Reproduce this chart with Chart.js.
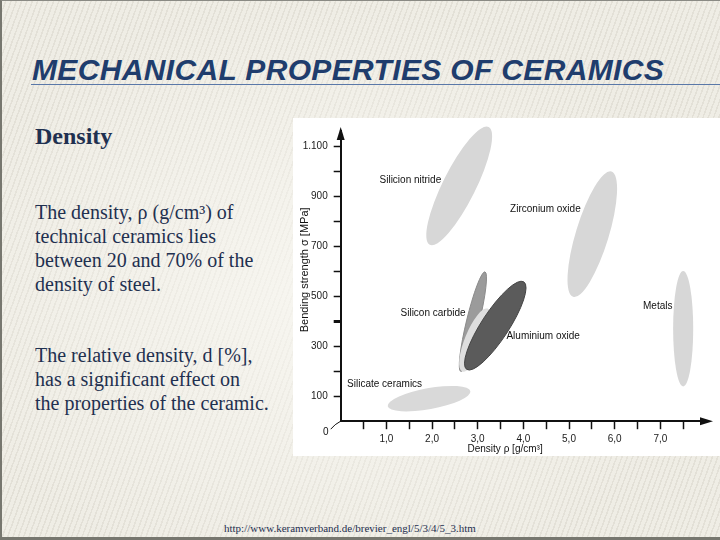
<!DOCTYPE html>
<html>
<head>
<meta charset="utf-8">
<script src="https://cdn.jsdelivr.net/npm/chart.js@4.4.1/dist/chart.umd.min.js"></script>
<style>
  html, body { margin: 0; padding: 0; }
  body {
    width: 720px; height: 540px; position: relative; overflow: hidden;
    background-color: #efede5;
    background-image:
      radial-gradient(ellipse at 45% 55%, rgba(250,249,244,0.75) 0%, rgba(250,249,244,0) 70%),
      repeating-linear-gradient(110deg, rgba(120,110,90,0.10) 0px, rgba(120,110,90,0.10) 1.5px, rgba(255,255,255,0) 1.5px, rgba(255,255,255,0) 5px);
    box-sizing: border-box;
    border-top: 1px solid #8a8a84;
    border-left: 2px solid #77776f;
    border-bottom: 3px solid #77776f;
  }
  .title {
    position: absolute; left: 30px; top: 54px;
    font: italic bold 30px/30px "Liberation Sans", Arial, sans-serif;
    letter-spacing: 0.35px;
    color: #1f3d6d; white-space: nowrap;
  }
  .rule { position: absolute; left: 29px; top: 83px; width: 700px; height: 1px; background: #5a78a8; }
  .txt {
    position: absolute; left: 33px;
    font-family: "Liberation Serif", "Times New Roman", serif;
    color: #1f3050; white-space: nowrap;
  }
  .head { top: 123px; font-size: 24px; line-height: 24px; font-weight: bold; }
  .body { font-size: 20px; line-height: 24px; }
  .url { position: absolute; left: 222px; top: 522px; font: 11px/11px "Liberation Serif", serif; color: #1f3050; white-space: nowrap; }
  #panel { position: absolute; left: 291px; top: 117px; width: 429px; height: 338px; background: #fff; }
  #chart { position: absolute; left: 2px; top: 1px; }
</style>
</head>
<body>
<div class="title">MECHANICAL PROPERTIES OF CERAMICS</div>
<div class="rule"></div>
<div class="txt head">Density</div>
<div class="txt body" style="top:199px">The density, ρ (g/cm³) of<br>technical ceramics lies<br>between 20 and 70% of the<br>density of steel.</div>
<div class="txt body" style="top:342px">The relative density, d [%],<br>has a significant effect on<br>the properties of the ceramic.</div>
<div class="url">http://www.keramverband.de/brevier_engl/5/3/4/5_3.htm</div>
<div id="panel"><canvas id="chart" width="427" height="337"></canvas></div>

<script>
// each material field is an ellipse between two end points (density, strength)
const materials = ['Silicion nitride', 'Zirconium oxide', 'Metals', 'Silicate ceramics', 'Silicon carbide', 'Silicon carbide / Aluminium oxide', 'Aluminium oxide'];
const densityLow = [1.95, 5.09, 7.50, 1.03, 2.63, 2.66, 2.76];
const strengthLow = [705, 497, 139, 60, 199, 199, 207];
const densityHigh = [3.24, 5.93, 7.50, 2.84, 3.16, 3.22, 4.01];
const strengthHigh = [1176, 998, 600, 120, 597, 450, 557];
const densitySpread = [0.36, 0.36, 0.22, 0.23, 0.14, 0.22, 0.30]; // half width, g/cm³

const xTicks = [0.5, 1.0, 1.5, 2.0, 2.5, 3.0, 3.5, 4.0, 4.5, 5.0, 5.5, 6.0, 6.5, 7.0, 7.5];
const yTicks = [100, 200, 300, 400, 500, 600, 700, 800, 900, 1000, 1100];

const labelTexts = ['Silicion nitride', 'Zirconium oxide', 'Metals', 'Silicate ceramics', 'Silicon carbide', 'Aluminium oxide'];
const labelDensity = [0.85, 3.71, 6.62, 0.14, 1.31, 3.63];
const labelStrength = [963, 846, 460, 146, 431, 338];

const fills = ['#d7d7d7', '#d7d7d7', '#d7d7d7', '#d9d9d9', '#9b9b9b', '#dedede', '#5b5b5b'];
const strokes = [null, null, null, null, '#8a8a8a', null, '#444444'];

Chart.defaults.font.family = '"Liberation Sans", Arial, sans-serif';
Chart.defaults.font.size = 10;
Chart.defaults.color = '#1a1a1a';

function dotThousands(v) {
    return String(v).replace(/\B(?=(\d{3})+(?!\d))/g, '.');
}

const ellipsePlugin = {
    id: 'ellipses',
    beforeDatasetsDraw(chart) {
        const ctx = chart.ctx;
        const xs = chart.scales.x;
        chart.data.datasets.forEach((ds, i) => {
            const pts = chart.getDatasetMeta(i).data;
            const p1 = pts[0], p2 = pts[1];
            const a = Math.hypot(p2.x - p1.x, p2.y - p1.y) / 2;
            const b = Math.abs(xs.getPixelForValue(ds.spread) - xs.getPixelForValue(0));
            const rot = Math.atan2(p2.y - p1.y, p2.x - p1.x);
            ctx.save();
            ctx.beginPath();
            ctx.ellipse((p1.x + p2.x) / 2, (p1.y + p2.y) / 2, a, b, rot, 0, Math.PI * 2);
            ctx.fillStyle = ds.backgroundColor;
            ctx.fill();
            if (ds.borderColor) {
                ctx.lineWidth = 1;
                ctx.strokeStyle = ds.borderColor;
                ctx.stroke();
            }
            ctx.restore();
        });
    },
    afterDraw(chart) {
        const ctx = chart.ctx;
        const xs = chart.scales.x, ys = chart.scales.y;
        const area = chart.chartArea;
        const ox = xs.getPixelForValue(0), oy = ys.getPixelForValue(0);
        ctx.save();
        ctx.fillStyle = '#111';
        ctx.strokeStyle = '#111';

        // arrow heads
        ctx.beginPath();
        ctx.moveTo(ox, area.top - 4);
        ctx.lineTo(ox - 4, area.top + 9);
        ctx.lineTo(ox + 4, area.top + 9);
        ctx.closePath();
        ctx.fill();
        ctx.beginPath();
        ctx.moveTo(area.right + 7, oy);
        ctx.lineTo(area.right - 6, oy - 4);
        ctx.lineTo(area.right - 6, oy + 4);
        ctx.closePath();
        ctx.fill();

        // origin mark
        ctx.lineWidth = 1;
        ctx.beginPath();
        ctx.moveTo(ox, oy);
        ctx.quadraticCurveTo(ox - 6, oy + 3, ox - 10, oy + 8);
        ctx.stroke();
        ctx.font = '10px "Liberation Sans", Arial, sans-serif';
        ctx.textAlign = 'center';
        ctx.textBaseline = 'middle';
        ctx.fillText('0', ox - 15, oy + 11);

        // field labels
        ctx.textAlign = 'left';
        labelTexts.forEach((t, i) => {
            ctx.fillText(t, xs.getPixelForValue(labelDensity[i]), ys.getPixelForValue(labelStrength[i]));
        });

        // axis titles
        ctx.textAlign = 'center';
        ctx.fillText('Density ρ [g/cm³]', xs.getPixelForValue(3.6), area.bottom + 28);
        ctx.translate(10, ys.getPixelForValue(605));
        ctx.rotate(-Math.PI / 2);
        ctx.font = '11px "Liberation Sans", Arial, sans-serif';
        ctx.fillText('Bending strength σ [MPa]', 0, 0);
        ctx.restore();
    }
};

const datasets = materials.map((name, i) => ({
    label: name,
    data: [{ x: densityLow[i], y: strengthLow[i] }, { x: densityHigh[i], y: strengthHigh[i] }],
    spread: densitySpread[i],
    backgroundColor: fills[i],
    borderColor: strokes[i],
    pointRadius: 0,
    showLine: false
}));

const ctx = document.getElementById('chart').getContext('2d');
new Chart(ctx, {
    type: 'scatter',
    data: { datasets: datasets },
    options: {
        responsive: false,
        animation: false,
        events: [],
        layout: { padding: { top: 10, right: 16, left: 0, bottom: 0 } },
        plugins: { legend: { display: false }, tooltip: { enabled: false } },
        scales: {
            x: {
                type: 'linear', min: 0, max: 8,
                afterBuildTicks: s => { s.ticks = xTicks.map(v => ({ value: v })); },
                afterFit: s => { s.height = 34.8; },
                grid: { drawOnChartArea: false, drawTicks: true, tickLength: 8, tickColor: '#111', tickWidth: 1.5 },
                border: { display: true, color: '#111', width: 2 },
                ticks: {
                    autoSkip: false, maxRotation: 0, padding: 4,
                    callback: v => Number.isInteger(v) ? v.toFixed(1).replace('.', ',') : ''
                }
            },
            y: {
                type: 'linear', min: 0, max: 1160,
                afterBuildTicks: s => { s.ticks = yTicks.map(v => ({ value: v })); },
                afterFit: s => { s.width = 45.7; },
                grid: {
                    drawOnChartArea: false, drawTicks: true, tickLength: 7, tickColor: '#111',
                    tickWidth: c => (c.tick && c.tick.value === 400) ? 3 : 1.5
                },
                border: { display: true, color: '#111', width: 2 },
                ticks: {
                    autoSkip: false, padding: 6,
                    callback: v => v % 200 === 100 ? dotThousands(v) : ''
                }
            }
        }
    },
    plugins: [ellipsePlugin]
});
</script>
</body>
</html>
